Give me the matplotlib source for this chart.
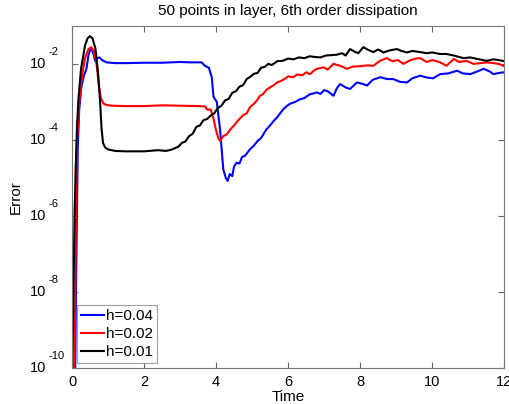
#!/usr/bin/env python3
"""Error vs time for three grid spacings (log scale)."""

import numpy as np
import matplotlib
matplotlib.use("Agg")
import matplotlib.pyplot as plt
import matplotlib.transforms as mtransforms

plt.rcParams["font.family"] = ["Liberation Sans", "DejaVu Sans"]

# values, as log10(error)
t_b = [0.07, 0.09, 0.11, 0.135, 0.16, 0.2, 0.26, 0.33, 0.4, 0.46, 0.53, 0.6, 0.64,
       0.7, 0.76, 0.85, 0.96, 1.2, 1.5, 2.0, 2.5, 3.0, 3.3, 3.6, 3.69, 3.8, 3.88,
       3.93, 4.02, 4.11, 4.2, 4.27, 4.32, 4.38, 4.45, 4.5, 4.57, 4.65, 4.72, 4.8,
       4.94, 5.05, 5.15, 5.25, 5.4, 5.5, 5.6, 5.7, 5.87, 5.95, 6.05, 6.2, 6.33,
       6.45, 6.6, 6.7, 6.8, 6.9, 7.0, 7.1, 7.26, 7.35, 7.44, 7.6, 7.72, 7.91,
       8.05, 8.19, 8.35, 8.56, 8.75, 8.92, 9.1, 9.3, 9.45, 9.67, 9.85, 10.03,
       10.22, 10.45, 10.69, 10.85, 11.06, 11.25, 11.43, 11.6, 11.7, 11.85, 12.0]
e_b = [-11, -10, -8, -6, -4.2, -3.2, -2.6, -2.31, -2.13, -1.75, -1.58, -1.75, -1.92,
       -1.85, -1.83, -1.91, -1.96, -1.98, -1.98, -1.97, -1.97, -1.95, -1.96, -1.96,
       -2.05, -2.1, -2.35, -2.87, -3.0, -3.72, -4.77, -5.0, -5.08, -4.9, -4.95,
       -4.7, -4.6, -4.62, -4.45, -4.42, -4.25, -4.15, -4.03, -3.95, -3.72, -3.62,
       -3.5, -3.4, -3.19, -3.12, -3.05, -3.0, -2.93, -2.9, -2.8, -2.78, -2.75,
       -2.79, -2.69, -2.72, -2.84, -2.65, -2.53, -2.62, -2.66, -2.49, -2.52, -2.57,
       -2.42, -2.35, -2.4, -2.4, -2.47, -2.49, -2.38, -2.31, -2.36, -2.38, -2.27,
       -2.25, -2.18, -2.25, -2.27, -2.2, -2.13, -2.2, -2.27, -2.24, -2.22]

t_r = [0.05, 0.065, 0.09, 0.11, 0.14, 0.2, 0.28, 0.36, 0.45, 0.53, 0.6, 0.68, 0.75,
       0.8, 0.87, 0.95, 1.1, 1.5, 2.0, 2.5, 3.0, 3.5, 3.7, 3.75, 3.85, 3.93, 4.0,
       4.06, 4.11, 4.2, 4.3, 4.4, 4.5, 4.57, 4.65, 4.75, 4.85, 4.94, 5.05, 5.12,
       5.22, 5.3, 5.4, 5.5, 5.6, 5.69, 5.8, 5.9, 6.0, 6.14, 6.25, 6.4, 6.5, 6.61,
       6.75, 6.85, 6.98, 7.1, 7.26, 7.45, 7.63, 7.8, 8.0, 8.2, 8.37, 8.55, 8.74,
       8.9, 9.05, 9.2, 9.4, 9.55, 9.67, 9.85, 10.0, 10.2, 10.4, 10.6, 10.75,
       10.95, 11.15, 11.35, 11.52, 11.7, 11.85, 12.0]
e_r = [-11, -10, -8, -6, -4.0, -3.0, -2.3, -1.85, -1.62, -1.56, -1.65, -2.0, -2.6,
       -2.9, -3.04, -3.08, -3.1, -3.11, -3.11, -3.09, -3.1, -3.11, -3.12, -3.2,
       -3.2, -3.45, -3.75, -3.95, -4.03, -3.9, -3.85, -3.72, -3.62, -3.53, -3.45,
       -3.35, -3.3, -3.14, -3.05, -2.98, -2.84, -2.8, -2.68, -2.62, -2.56, -2.49,
       -2.45, -2.4, -2.33, -2.35, -2.28, -2.3, -2.22, -2.27, -2.15, -2.12, -2.09,
       -2.15, -2.0, -2.05, -2.13, -2.07, -2.06, -2.04, -2.05, -1.92, -1.85, -1.93,
       -1.9, -2.0, -1.9, -1.86, -1.85, -1.95, -1.9, -1.95, -2.05, -1.87, -1.95,
       -1.92, -2.0, -1.98, -1.96, -1.98, -2.0, -2.06]

t_k = [0.0, 0.01, 0.04, 0.07, 0.1, 0.14, 0.18, 0.25, 0.36, 0.43, 0.5, 0.57, 0.65,
       0.72, 0.78, 0.82, 0.86, 0.92, 1.0, 1.2, 1.5, 2.0, 2.4, 2.6, 2.75, 2.85,
       2.95, 3.05, 3.15, 3.25, 3.35, 3.45, 3.55, 3.65, 3.75, 3.85, 3.95, 4.05,
       4.15, 4.25, 4.35, 4.45, 4.55, 4.65, 4.75, 4.85, 4.95, 5.05, 5.15, 5.25,
       5.35, 5.45, 5.55, 5.7, 5.85, 6.0, 6.15, 6.3, 6.45, 6.6, 6.75, 6.9, 7.05,
       7.2, 7.35, 7.5, 7.6, 7.72, 7.85, 7.95, 8.09, 8.2, 8.37, 8.5, 8.65, 8.8,
       9.02, 9.15, 9.3, 9.45, 9.67, 9.85, 10.0, 10.22, 10.4, 10.6, 10.87, 11.05,
       11.25, 11.52, 11.7, 11.85, 12.0]
e_k = [-11, -10, -8, -6, -4.8, -3.6, -2.9, -2.13, -1.52, -1.33, -1.27, -1.33, -1.6,
       -2.2, -3.0, -3.7, -4.08, -4.2, -4.25, -4.29, -4.3, -4.3, -4.27, -4.29,
       -4.26, -4.22, -4.18, -4.08, -4.04, -3.9, -3.84, -3.66, -3.62, -3.48, -3.45,
       -3.36, -3.3, -3.16, -3.1, -2.96, -2.92, -2.76, -2.72, -2.6, -2.56, -2.4,
       -2.34, -2.26, -2.24, -2.1, -2.08, -2.0, -2.03, -1.93, -1.92, -1.86, -1.88,
       -1.83, -1.85, -1.8, -1.82, -1.83, -1.78, -1.77, -1.76, -1.72, -1.78, -1.61,
       -1.68, -1.72, -1.56, -1.62, -1.69, -1.62, -1.7, -1.65, -1.61, -1.66, -1.7,
       -1.66, -1.69, -1.72, -1.7, -1.74, -1.74, -1.78, -1.85, -1.83, -1.87, -1.92,
       -1.88, -1.9, -1.93]

y_exps = [-10, -8, -6, -4, -2]

series = [
    ("h=0.04", t_b, e_b, "#0000ff"),
    ("h=0.02", t_r, e_r, "#ff0000"),
    ("h=0.01", t_k, e_k, "#000000"),
]

fig = plt.figure(figsize=(5.09, 4.04), dpi=100)
ax = fig.add_axes([0.1415, 0.089, 0.849, 0.847])

for label, t, e, c in series:
    ax.semilogy(t, 10.0 ** np.array(e), color=c, linewidth=1.5, label=label)

ax.set_xlim(0, 12)
ax.set_ylim(1e-10, 1e-1)
ax.set_xticks(range(0, 13, 2))
ax.set_yticks([10.0 ** p for p in y_exps])
ax.set_yticklabels([])
ax.minorticks_off()
ax.tick_params(direction="in", top=True, right=True, labelsize=10.5, length=4,
               color="#666666", pad=5)
for s in ax.spines.values():
    s.set_color("#777777")
    s.set_linewidth(0.8)

# MATLAB-style "10" with a raised exponent next to it
trans = mtransforms.blended_transform_factory(ax.transAxes, ax.transData)
up = mtransforms.offset_copy(trans, fig=fig, x=0, y=8.5, units="points")
for p in y_exps:
    ax.text(-0.059, 10.0 ** p, "10", transform=trans, ha="right", va="center",
            fontsize=10.5)
    ax.text(-0.055, 10.0 ** p, str(p), transform=up, ha="left", va="center",
            fontsize=8)

ax.set_xlabel("Time", fontsize=11, labelpad=1)
ax.set_ylabel("Error", fontsize=11)
ax.yaxis.set_label_coords(-0.113, 0.5)
ax.set_title("50 points in layer, 6th order dissipation", fontsize=11, pad=8)

leg = ax.legend(loc="lower left", fontsize=11, frameon=True, fancybox=False,
                handlelength=1.5, handletextpad=0.1, borderpad=0.3,
                labelspacing=0.25, borderaxespad=0.3)
leg.get_frame().set_edgecolor("#888888")
leg.get_frame().set_linewidth(0.8)

fig.savefig("out.png", dpi=100)
